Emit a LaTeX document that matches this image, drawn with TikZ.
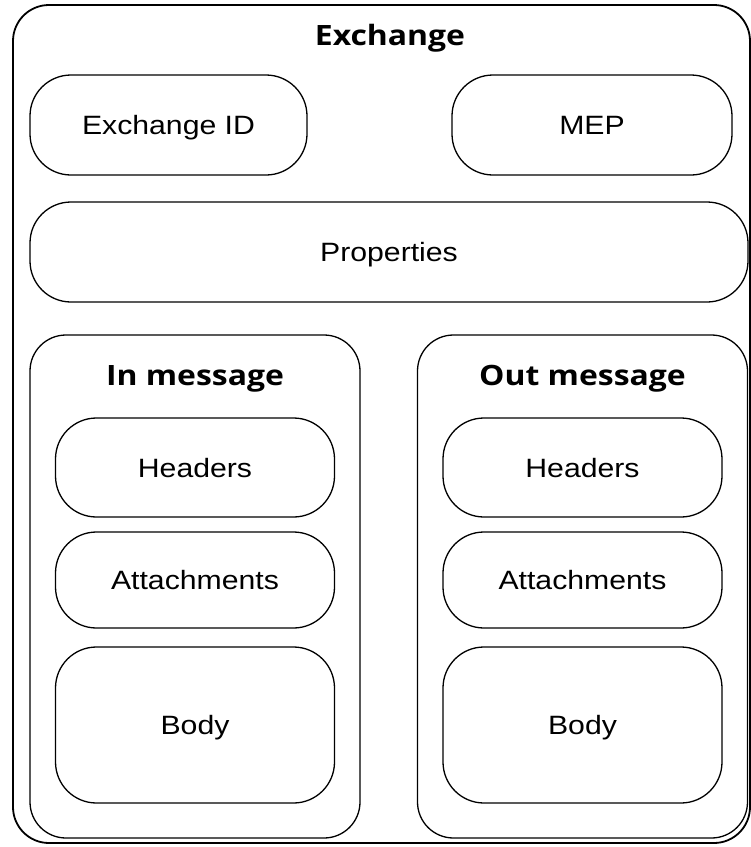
\documentclass[tikz,border=0pt]{standalone}
\usepackage{fontspec}
\setmainfont{Liberation Sans}
\newfontfamily\headfont{Open Sans}
\usepackage{tikz}
\usetikzlibrary{positioning}
\newcommand\wtxt[1]{\scalebox{1.14}[1]{#1}}
\tikzset{
  part/.style={draw,line width=1.3pt,rounded corners=41pt,align=center,inner sep=0pt,text depth=0pt,font=\fontsize{26.5}{30}\selectfont},
  grp/.style={draw,line width=1.3pt,rounded corners=36pt,inner sep=0pt},
  ttl/.style={anchor=base,inner sep=0pt,font=\headfont\bfseries\fontsize{28}{32}\selectfont}
}
\begin{document}
\begin{tikzpicture}[x=1pt,y=-1pt]
\useasboundingbox (0,0) rectangle (751,847);
\node[grp,line width=1.8pt,minimum width=737pt,minimum height=838pt] (exch) at (381.5,424) {};
\node[ttl] (exchttl) at (390,45) {\wtxt{Exchange}};
\node[part,minimum width=277pt,minimum height=100pt] (exid) at (168.5,125) {\wtxt{Exchange ID}};
\node[part,minimum width=280pt,minimum height=100pt] (mep) at (592,125) {\wtxt{MEP}};
\node[part,minimum width=718pt,minimum height=100pt] (props) at (389,252) {\wtxt{Properties}};
\foreach \side/\cx/\lbl in {in/195/In,out/582.5/Out}{
 \node[grp,minimum width=330pt,minimum height=503pt] (\side msg) at (\cx,586.5) {};
 \node[ttl] (\side ttl) at (\cx,385) {\wtxt{\lbl\ message}};
 \node[part,minimum width=279pt,minimum height=99pt] (\side hdr) at (\cx,467.5) {\wtxt{Headers}};
 \node[part,minimum width=279pt,minimum height=96pt] (\side att) at (\cx,580) {\wtxt{Attachments}};
 \node[part,minimum width=279pt,minimum height=156pt] (\side body) at (\cx,725) {\wtxt{Body}};}
\end{tikzpicture}
\end{document}
